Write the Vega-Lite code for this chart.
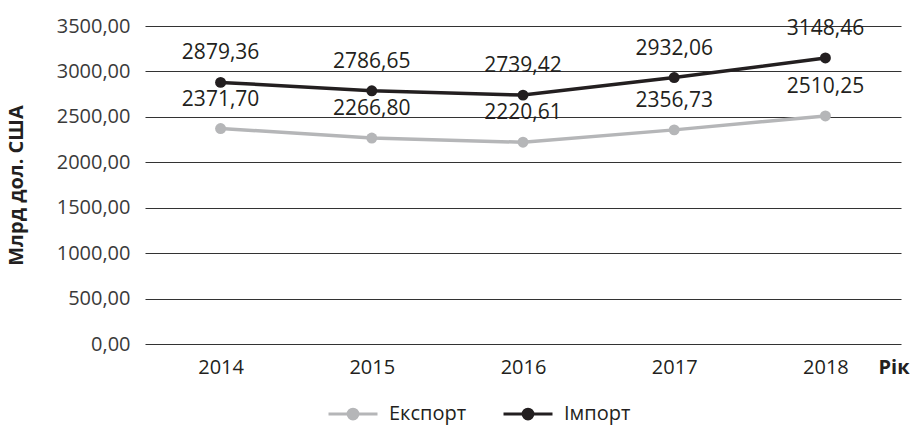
{
  "$schema": "https://vega.github.io/schema/vega-lite/v6.json",
  "width": 756,
  "height": 318,
  "autosize": "none",
  "padding": {"left": 145, "top": 26, "right": 16, "bottom": 81},
  "background": "white",
  "config": {
    "locale": {"number": {"decimal": ",", "thousands": "", "grouping": [3], "currency": ["", ""]}},
    "font": "Open Sans",
    "view": {"stroke": null}
  },
  "data": {
    "values": [
      {"year": "2014", "series": "Експорт", "value": 2371.70},
      {"year": "2015", "series": "Експорт", "value": 2266.80},
      {"year": "2016", "series": "Експорт", "value": 2220.61},
      {"year": "2017", "series": "Експорт", "value": 2356.73},
      {"year": "2018", "series": "Експорт", "value": 2510.25},
      {"year": "2014", "series": "Імпорт", "value": 2879.36},
      {"year": "2015", "series": "Імпорт", "value": 2786.65},
      {"year": "2016", "series": "Імпорт", "value": 2739.42},
      {"year": "2017", "series": "Імпорт", "value": 2932.06},
      {"year": "2018", "series": "Імпорт", "value": 3148.46}
    ]
  },
  "encoding": {
    "x": {
      "field": "year", "type": "ordinal",
      "scale": {"type": "point", "padding": 0.5},
      "axis": {
        "title": "Рік", "titleFontSize": 20, "titleFontWeight": "bold", "titleColor": "#231f20",
        "titleAnchor": "end", "titleAlign": "left", "titleBaseline": "top", "titleX": 733, "titleY": 13,
        "labelAngle": 0, "labelFontSize": 20, "labelColor": "#231f20", "labelPadding": 13,
        "ticks": false, "domain": false, "grid": false
      }
    },
    "y": {
      "field": "value", "type": "quantitative",
      "scale": {"domain": [0, 3500], "nice": false},
      "axis": {
        "title": "Млрд дол. США", "titleFontSize": 20, "titleFontWeight": "bold", "titleColor": "#231f20",
        "titleAngle": -90, "titleX": -129, "titleY": 159, "titleAlign": "center", "titleBaseline": "middle",
        "values": [0, 500, 1000, 1500, 2000, 2500, 3000, 3500],
        "format": ".2f", "labelFontSize": 20, "labelColor": "#3a3a3a", "labelPadding": 15,
        "ticks": false, "domain": false, "grid": true, "gridColor": "#333333", "gridWidth": 1.2
      }
    },
    "color": {
      "field": "series", "type": "nominal",
      "scale": {"domain": ["Експорт", "Імпорт"], "range": ["#b5b6b8", "#231f20"]},
      "legend": {
        "title": null, "orient": "none", "direction": "horizontal",
        "legendX": 182, "legendY": 362,
        "symbolType": "M-1,0H1M-0.2,0A0.2,0.2,0,1,1,0.2,0A0.2,0.2,0,1,1,-0.2,0Z",
        "symbolSize": 2400, "symbolStrokeWidth": 3,
        "labelFontSize": 20, "labelColor": "#231f20", "labelOffset": 10, "columnPadding": 30
      }
    }
  },
  "layer": [
    {"mark": {"type": "point", "filled": true, "size": 120, "opacity": 1}},
    {"mark": {"type": "line", "strokeWidth": 3.5}},
    {
      "mark": {"type": "text", "fontSize": 21, "dy": -29, "baseline": "middle", "color": "#231f20"},
      "encoding": {
        "text": {"field": "value", "type": "quantitative", "format": ".2f"},
        "color": {"value": "#231f20"}
      }
    }
  ]
}
